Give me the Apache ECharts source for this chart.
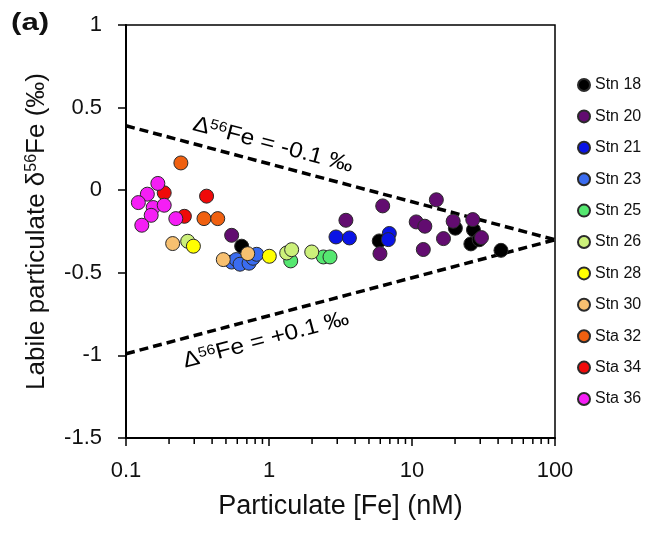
<!DOCTYPE html>
<html>
<head>
<meta charset="utf-8">
<script src="https://cdn.jsdelivr.net/npm/echarts@6/dist/echarts.min.js"></script>
<style>
  html, body { margin: 0; padding: 0; background: #fff; }
  #chart { width: 653px; height: 537px; }
</style>
</head>
<body>
<div id="chart"></div>
<script>
// station names, colours
var stations = ['Stn 18', 'Stn 20', 'Stn 21', 'Stn 23', 'Stn 25', 'Stn 26', 'Stn 28', 'Stn 30', 'Sta 32', 'Sta 34', 'Sta 36'];
var colors = ['#000000', '#620c70', '#0a14e6', '#3a6cf0', '#55e870', '#ccf07a', '#ffff00', '#f7c070', '#f06010', '#f00a0a', '#f51ef5'];

// [particulate Fe (nM), labile d56Fe]
var stn18 = [[0.644, -0.339], [5.90, -0.307], [20.1, -0.23], [26.9, -0.24], [25.8, -0.325], [29.5, -0.30], [41.9, -0.364]];
var stn20 = [[0.548, -0.273], [3.45, -0.182], [6.24, -0.095], [5.97, -0.384], [10.7, -0.192], [12.3, -0.218], [12.0, -0.359],
             [14.8, -0.058], [16.6, -0.293], [19.4, -0.188], [26.6, -0.178], [30.6, -0.287]];
var stn21 = [[2.94, -0.283], [3.65, -0.289], [6.94, -0.262], [6.83, -0.299]];
var stn23 = [[0.548, -0.435], [0.59, -0.42], [0.627, -0.448], [0.725, -0.442], [0.773, -0.412], [0.82, -0.388]];
var stn25 = [[1.419, -0.428], [2.40, -0.404], [2.67, -0.404]];
var stn26 = [[0.270, -0.309], [1.33, -0.38], [1.44, -0.36], [1.99, -0.374]];
var stn28 = [[0.296, -0.339], [1.005, -0.40]];
var stn30 = [[0.212, -0.323], [0.479, -0.42], [0.71, -0.384]];
var sta32 = [[0.242, 0.165], [0.351, -0.172], [0.438, -0.172]];
var sta34 = [[0.185, -0.016], [0.256, -0.158], [0.366, -0.036]];
var sta36 = [[0.167, 0.041], [0.141, -0.024], [0.122, -0.075], [0.155, -0.105], [0.185, -0.091], [0.150, -0.152], [0.129, -0.212], [0.223, -0.172]];
var allData = [stn18, stn20, stn21, stn23, stn25, stn26, stn28, stn30, sta32, sta34, sta36];

// dashed lines, Δ56Fe = -0.1 / +0.1 ‰
var lineMinus = [[0.1, 0.39], [100, -0.3]];
var linePlus = [[0.1, -0.99], [100, -0.3]];

// minor ticks on log axis
var minorTicks = [0.2, 0.3, 0.4, 0.5, 0.6, 0.7, 0.8, 0.9, 2, 3, 4, 5, 6, 7, 8, 9, 20, 30, 40, 50, 60, 70, 80, 90];

var FONT = '"Liberation Sans", Arial, Helvetica, sans-serif';

var myChart = echarts.init(document.getElementById('chart'));

var series = [];
stations.forEach(function(name, i) {
    series.push({
        name: name,
        type: 'scatter',
        data: allData[i],
        symbolSize: 14,
        itemStyle: { color: colors[i], borderColor: '#2a2a2a', borderWidth: 1, opacity: 1 },
        z: 3
    });
});
series.push({
    type: 'line', data: lineMinus, symbol: 'none', silent: true,
    lineStyle: { color: '#000', width: 3.5, type: [9, 5] }, z: 2
});
series.push({
    type: 'line', data: linePlus, symbol: 'none', silent: true,
    lineStyle: { color: '#000', width: 3.5, type: [9, 5] }, z: 2
});
series.push({
    type: 'custom',
    data: minorTicks,
    silent: true,
    clip: false,
    encode: { x: 0 },
    renderItem: function(params, api) {
        var p = api.coord([api.value(0), -1.5]);
        return {
            type: 'line',
            shape: { x1: p[0], y1: p[1], x2: p[0], y2: p[1] + 6 },
            style: { stroke: '#000', lineWidth: 1.5 }
        };
    }
});

var sup = { fontSize: 14, verticalAlign: 'top', fontFamily: FONT, color: '#111' };

var option = {
    animation: false,
    backgroundColor: '#fff',
    textStyle: { fontFamily: FONT },
    grid: {
        left: 126, right: 98, top: 25, bottom: 99,
        show: true, borderColor: '#000', borderWidth: 1.5
    },
    legend: {
        data: stations,
        orient: 'vertical',
        left: 572, top: 72,
        itemWidth: 12, itemHeight: 14, itemGap: 15.4,
        icon: 'circle',
        textStyle: { fontSize: 16, color: '#111', fontFamily: FONT, lineHeight: 14 }
    },
    xAxis: {
        type: 'log',
        min: 0.1, max: 100, logBase: 10,
        name: 'Particulate [Fe] (nM)',
        nameLocation: 'middle', nameGap: 55,
        nameTextStyle: { fontSize: 27, color: '#111', fontFamily: FONT },
        axisLine: { onZero: false, lineStyle: { color: '#000', width: 2 } },
        axisTick: { inside: false, length: 8, lineStyle: { color: '#000', width: 1.5 } },
        axisLabel: { fontSize: 22, color: '#111', margin: 22, fontFamily: FONT },
        splitLine: { show: false }
    },
    yAxis: {
        type: 'value',
        min: -1.5, max: 1, interval: 0.5,
        name: '{a|Labile particulate δ}{s|56}{a|Fe (‰)}',
        nameLocation: 'middle', nameGap: 76, nameRotate: 90,
        nameTextStyle: {
            rich: {
                a: { fontSize: 26, color: '#111', fontFamily: FONT },
                s: { fontSize: 16, verticalAlign: 'top', color: '#111', fontFamily: FONT }
            }
        },
        axisLine: { show: true, onZero: false, lineStyle: { color: '#000', width: 2 } },
        axisTick: { show: true, inside: false, length: 8, lineStyle: { color: '#000', width: 1.5 } },
        axisLabel: { fontSize: 22, color: '#111', margin: 24, fontFamily: FONT },
        splitLine: { show: false }
    },
    graphic: [
        {
            type: 'text', left: 11, top: 11, scaleX: 1.3,
            style: { text: '(a)', fontSize: 24, fontWeight: 'bold', fill: '#111', fontFamily: FONT }
        },
        {
            type: 'text', x: 273, y: 145, rotation: -0.26, scaleX: 1.12,
            style: {
                text: '{a|Δ}{s|56}{a|Fe = -0.1 ‰}',
                align: 'center', verticalAlign: 'middle',
                rich: { a: { fontSize: 22, fontFamily: FONT, color: '#111' }, s: sup }
            }
        },
        {
            type: 'text', x: 266, y: 340, rotation: 0.26, scaleX: 1.12,
            style: {
                text: '{a|Δ}{s|56}{a|Fe = +0.1 ‰}',
                align: 'center', verticalAlign: 'middle',
                rich: { a: { fontSize: 22, fontFamily: FONT, color: '#111' }, s: sup }
            }
        }
    ],
    series: series
};

myChart.setOption(option);
</script>
</body>
</html>
